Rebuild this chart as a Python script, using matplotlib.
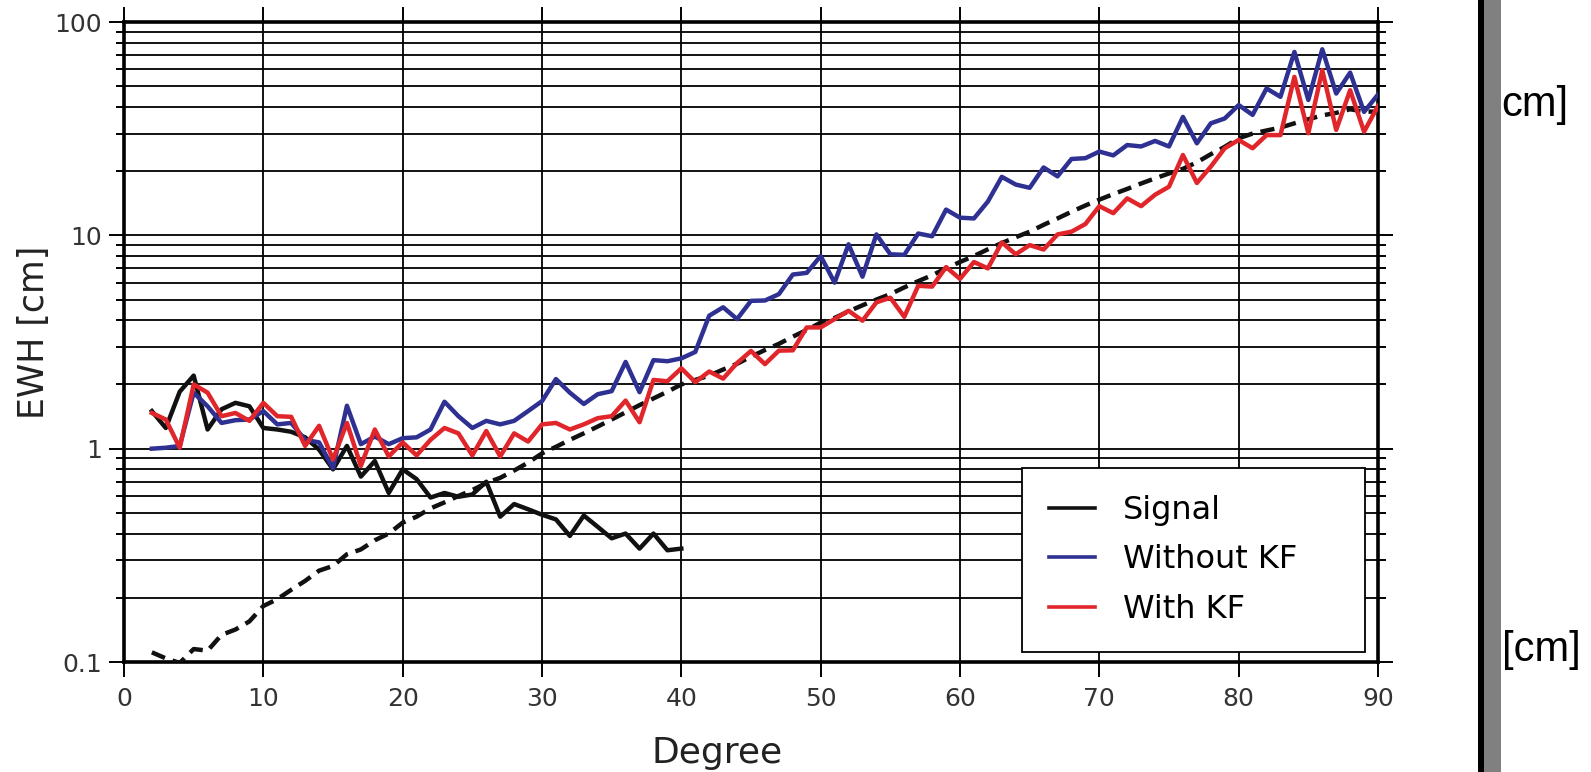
import numpy as np
import matplotlib
matplotlib.use("Agg")
import matplotlib.pyplot as plt
from matplotlib.patches import Rectangle
from matplotlib.lines import Line2D
from matplotlib.ticker import LogLocator, FuncFormatter, NullFormatter

# degree axes
deg_signal = list(range(2, 41))
deg_all = list(range(2, 91))

# EWH [cm] per degree
signal = [1.50, 1.25, 1.85, 2.2, 1.23, 1.53, 1.64, 1.58, 1.25, 1.23, 1.2, 1.13, 0.99,
          0.80, 1.03, 0.74, 0.875, 0.62, 0.80, 0.72, 0.59, 0.62, 0.595, 0.61, 0.70,
          0.48, 0.55, 0.52, 0.49, 0.466, 0.39, 0.486, 0.43, 0.38, 0.40, 0.34, 0.40,
          0.334, 0.34]

without_kf = [1.0, 1.01, 1.03, 1.83, 1.58, 1.32, 1.36, 1.37, 1.50, 1.30, 1.32, 1.10, 1.07,
              0.81, 1.59, 1.05, 1.14, 1.05, 1.12, 1.13, 1.23, 1.66, 1.42, 1.25, 1.35,
              1.30, 1.35, 1.50, 1.67, 2.12, 1.83, 1.62, 1.80, 1.86, 2.55, 1.84, 2.6,
              2.57, 2.65,
              2.84, 4.2, 4.6, 4.05, 4.93, 4.95, 5.3, 6.55, 6.67, 8.0, 6.0, 9.08, 6.4,
              10.1, 8.15, 8.1, 10.2, 9.9, 13.2, 12.1, 12.0, 14.4, 18.8, 17.3, 16.7,
              20.8, 18.9, 22.8, 23.0, 24.7, 23.7, 26.5, 26.1, 27.7, 26.1, 35.9, 27.0,
              33.5, 35.3, 40.8, 36.7, 48.8, 44.6, 72.4, 43.1, 74.5, 46.2, 57.9, 37.9,
              45.7]

with_kf = [1.47, 1.37, 1.01, 2.0, 1.83, 1.42, 1.47, 1.35, 1.64, 1.42, 1.41, 1.03, 1.28,
           0.89, 1.32, 0.83, 1.23, 0.92, 1.07, 0.93, 1.1, 1.25, 1.18, 0.93, 1.21,
           0.92, 1.18, 1.08, 1.30, 1.32, 1.23, 1.30, 1.39, 1.42, 1.68, 1.33, 2.1,
           2.07, 2.38,
           2.05, 2.3, 2.13, 2.52, 2.87, 2.49, 2.88, 2.89, 3.7, 3.7, 4.05, 4.43, 3.98,
           4.85, 5.1, 4.15, 5.8, 5.75, 7.1, 6.25, 7.5, 7.0, 9.27, 8.15, 9.0, 8.58,
           10.1, 10.4, 11.3, 13.7, 12.7, 14.9, 13.7, 15.5, 16.9, 23.8, 17.6, 21.0,
           25.6, 28.0, 25.6, 29.5, 29.5, 55.3, 30.1, 59.4, 31.2, 47.9, 30.6, 40.4]

# dashed error curve (no legend entry)
error_curve = [0.111, 0.104, 0.099, 0.115, 0.113, 0.134, 0.142, 0.155, 0.183, 0.197,
               0.218, 0.24, 0.268, 0.282, 0.32, 0.337, 0.372, 0.40, 0.45, 0.48,
               0.525, 0.56, 0.6, 0.64, 0.69, 0.73, 0.79, 0.86, 0.95, 1.02, 1.1, 1.18,
               1.27, 1.37, 1.48, 1.6, 1.72, 1.85, 2.0,
               2.1, 2.2, 2.35, 2.5, 2.7, 2.9, 3.1, 3.35, 3.6, 3.9, 4.1, 4.4, 4.7, 5.0,
               5.3, 5.7, 6.1, 6.5, 7.0, 7.5, 8.0, 8.6, 9.2, 9.8, 10.4, 11.2, 12.0,
               12.9, 13.8, 14.7, 15.6, 16.5, 17.5, 18.5, 19.5, 20.5, 22, 24, 26, 28.5,
               30, 31, 32, 33.5, 35, 36.5, 37.5, 39, 38, 38]

x_ticks = list(range(0, 91, 10))
legend_labels = ["Signal", "Without KF", "With KF"]

BLUE = "#2e3192"
RED = "#e0262a"
BLACK = "#111111"

W, H = 1591, 772
fig = plt.figure(figsize=(W / 100, H / 100), dpi=100)
ax = fig.add_axes([124 / W, 1 - 662 / H, 1254 / W, 640 / H])

lw = 3.2
ax.plot(deg_all, error_curve, color=BLACK, lw=lw, dashes=(3.2, 1.8), zorder=3)
ax.plot(deg_signal, signal, color=BLACK, lw=lw, zorder=4)
ax.plot(deg_all, without_kf, color=BLUE, lw=lw, zorder=4)
ax.plot(deg_all, with_kf, color=RED, lw=lw, zorder=5)

ax.set_yscale("log")
ax.set_xlim(0, 90)
ax.set_ylim(0.1, 100)
ax.set_xticks(x_ticks)
ax.yaxis.set_major_locator(LogLocator(base=10))
ax.yaxis.set_minor_locator(LogLocator(base=10, subs=range(2, 10)))
ax.yaxis.set_major_formatter(FuncFormatter(lambda v, _: f"{v:g}"))
ax.yaxis.set_minor_formatter(NullFormatter())

ax.grid(True, which="both", axis="y", color="black", lw=1.3, zorder=1)
ax.grid(True, which="major", axis="x", color="black", lw=1.3, zorder=1)
ax.set_axisbelow(True)

ax.tick_params(which="both", direction="out", top=True, right=True,
               color="black", width=1.4)
ax.tick_params(which="major", length=11, labelsize=18, labelcolor="#333333")
ax.tick_params(axis="x", which="major", pad=7)
ax.tick_params(axis="y", which="major", pad=5)
ax.tick_params(which="minor", length=6)
for s in ax.spines.values():
    s.set_linewidth(2.6)

ax.set_xlabel("Degree", fontsize=26, color="#222222")
ax.xaxis.set_label_coords(0.473, -0.116)
ax.xaxis.label.set_va("top")
ax.set_ylabel("EWH [cm]", fontsize=25, color="#222222")
ax.yaxis.set_label_coords(-0.058, 0.515)

handles = [Line2D([], [], color=BLACK, lw=2.6),
           Line2D([], [], color=BLUE, lw=2.6),
           Line2D([], [], color=RED, lw=2.6)]
leg = ax.legend(handles, legend_labels, loc="upper left",
                bbox_to_anchor=(898 / 1254, (662 - 474) / 640, 343 / 1254, 0.01),
                mode="expand", fontsize=23, frameon=True, fancybox=False,
                edgecolor="black", framealpha=1, borderpad=0.85,
                handlelength=1.45, handletextpad=0.85, labelspacing=0.58,
                borderaxespad=0)
leg.get_frame().set_linewidth(1.3)
leg.set_zorder(10)

# strip at the right edge of the picture
fig.add_artist(Rectangle((1478 / W, 0), 6 / W, 1, transform=fig.transFigure,
                         color="black", lw=0))
fig.add_artist(Rectangle((1484 / W, 0), 17 / W, 1, transform=fig.transFigure,
                         color="#808080", lw=0))
fig.text(1501 / W, 1 - 105 / H, "cm]", fontsize=30, family="Liberation Sans",
         va="center", ha="left")
fig.text(1502 / W, 1 - 650 / H, "[cm]", fontsize=30, family="Liberation Sans",
         va="center", ha="left")

fig.savefig("out.png", dpi=100)
